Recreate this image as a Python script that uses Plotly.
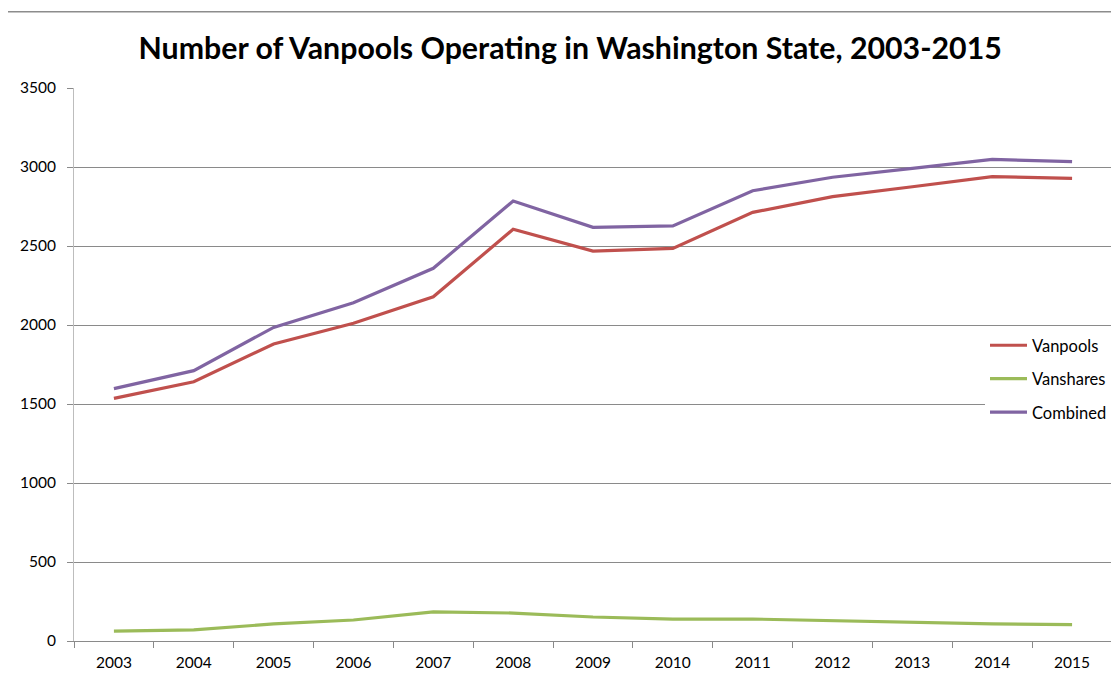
import plotly.graph_objects as go

years = ["2003", "2004", "2005", "2006", "2007", "2008", "2009",
         "2010", "2011", "2012", "2013", "2014", "2015"]
vanpools = [1536, 1641, 1880, 2011, 2179, 2606, 2468, 2485, 2713, 2812, 2875, 2939, 2928]
vanshares = [63, 70, 108, 133, 184, 177, 152, 139, 139, 127, 120, 108, 104]
combined = [1597, 1711, 1985, 2141, 2359, 2785, 2618, 2627, 2850, 2935, 2991, 3048, 3034]
y_ticks = [0, 500, 1000, 1500, 2000, 2500, 3000, 3500]

series = [("Vanpools", vanpools, "#C0504D"),
          ("Vanshares", vanshares, "#9BBB59"),
          ("Combined", combined, "#8064A2")]

FONT = "Lato, 'Liberation Sans', sans-serif"
GRID = "#8A8A8A"

fig = go.Figure()
for name, vals, color in series:
    fig.add_trace(go.Scatter(x=years, y=vals, name=name, mode="lines",
                             legendgroup=name,
                             line=dict(color=color, width=3.2)))

fig.update_layout(
    width=1111, height=671,
    margin=dict(l=66, r=7, t=80, b=38),
    paper_bgcolor="white", plot_bgcolor="white",
    font=dict(family=FONT, size=15, color="#000000"),
    title=dict(text="<b>Number of Vanpools Operating in Washington State, 2003-2015</b>",
               x=0.506, xanchor="center", y=0.94, yanchor="middle",
               font=dict(family=FONT, size=30.3, color="#000000")),
    showlegend=True,
    legend=dict(x=1.0, xanchor="right", y=0.566, yanchor="top",
                bgcolor="white", borderwidth=0, itemwidth=37,
                tracegroupgap=9,
                font=dict(family=FONT, size=16.5, color="#000000")),
    xaxis=dict(type="category", range=[-0.5, 12.5], showgrid=False, showline=True,
               linecolor=GRID, linewidth=1, ticks="outside", tickson="boundaries",
               ticklen=6, tickcolor=GRID, tickfont=dict(size=15.5), zeroline=False,
               ticklabelstandoff=7),
    yaxis=dict(range=[0, 3500], tickvals=y_ticks, showgrid=True, gridcolor=GRID,
               gridwidth=1, showline=True, linecolor="#BDBDBD", linewidth=1,
               ticks="outside", ticklen=6, tickcolor=GRID, zeroline=False,
               tickfont=dict(size=15.5), ticklabelstandoff=8),
)

fig.add_shape(type="rect", xref="paper", yref="paper",
              x0=-0.0665, x1=1.2, y0=-0.3, y1=1.138,
              line=dict(color="#8C8C8C", width=1.5), fillcolor="rgba(0,0,0,0)",
              layer="below")

fig.write_html("out.html")
